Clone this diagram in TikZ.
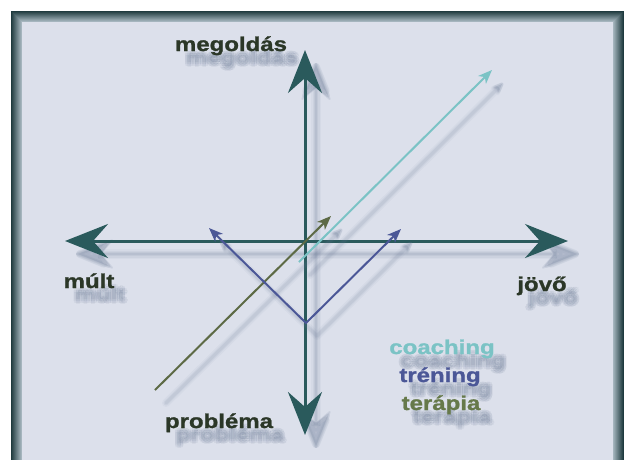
\documentclass[tikz,border=0pt]{standalone}
\usepackage{fontspec}
\setmainfont{Liberation Sans}
\newfontfamily\lblfont{Liberation Sans}[FakeStretch=1.2, FakeBold=1.2]
\usepackage{tikz}
\usetikzlibrary{arrows.meta, calc}
\definecolor{bgface}{HTML}{DCE0EB}
\definecolor{frameout}{HTML}{1E3A3E}
\definecolor{framein}{HTML}{B4C3CC}
\definecolor{axisteal}{HTML}{2A5A5C}
\definecolor{labeldark}{HTML}{2B3727}
\definecolor{shadowblue}{HTML}{6A7A96}
\definecolor{coachcyan}{HTML}{7BC3C5}
\definecolor{trainblue}{HTML}{4B5797}
\definecolor{therapygreen}{HTML}{66794A}
\definecolor{therapyline}{HTML}{5D6A45}

\begin{document}
\begin{tikzpicture}[x=1pt, y=-1pt,
  AxTip/.tip={Stealth[length=43pt, width=34pt, inset=15pt]},
  AxShTip/.tip={Stealth[length=40pt 0.6, width=31pt 0.6, inset=14pt, round]},
  SmTip/.tip={Stealth[length=14pt, width=11pt, inset=4pt]},
  SmShTip/.tip={Stealth[length=12pt 0.6, width=9pt 0.6, inset=3pt, round]},
  axis/.style={draw=axisteal, line width=3pt, AxTip-AxTip},
  axshadow/.style={draw=shadowblue, AxShTip-AxShTip},
  dirarr/.style={line width=2pt, -SmTip},
  dirshadow/.style={draw=shadowblue, line cap=round, line join=round},
  lbl/.style={font=\lblfont\bfseries\fontsize{20}{20}\selectfont,
              inner sep=0pt, anchor=base, text=labeldark},
  lblshadow/.style={lbl, text=shadowblue, opacity=0.08},
]
  \useasboundingbox (0,0) rectangle (624,459);
  \fill[white] (0,0) rectangle (624,459);
  \fill[bgface] (11,11) rectangle (624,470);
  % bevelled frame, cut off at the bottom
  \foreach \i in {0,...,10} {
    \pgfmathsetmacro\mixp{100-9*\i}
    \draw[frameout!\mixp!framein, line width=1.1pt]
      (11.5+\i,11.5+\i) rectangle (623.5-\i,480);
  }

  \coordinate (solTip)    at (305,50);
  \coordinate (probTip)   at (305,435);
  \coordinate (pastTip)   at (65,241);
  \coordinate (futTip)    at (568,241);
  \coordinate (coachFrom) at (299,262);
  \coordinate (coachTo)   at (492,70);
  \coordinate (therFrom)  at (155,390);
  \coordinate (therTo)    at (331,216);
  \coordinate (trainL)    at (209,228);
  \coordinate (trainV)    at (306,323);
  \coordinate (trainR)    at (401,229);

  % soft shadows of the axes
  \begin{scope}[transform canvas={shift={(11,13)}}]
    \foreach \w/\o in {10/0.06, 7/0.08, 4/0.10, 2/0.12} {
      \draw[axshadow, line width=\w pt, opacity=\o] (pastTip) -- (futTip);
      \draw[axshadow, line width=\w pt, opacity=\o] (solTip) -- (probTip);
    }
  \end{scope}
  \draw[axis] (pastTip) -- (futTip);
  \draw[axis] (solTip) -- (probTip);

  % soft shadows of the three approaches
  \begin{scope}[transform canvas={shift={(11,13)}}]
    \foreach \w/\o in {8/0.06, 5/0.08, 3/0.10} {
      \draw[dirshadow, line width=\w pt, opacity=\o, -SmShTip] (therFrom) -- (therTo);
      \draw[dirshadow, line width=\w pt, opacity=\o, SmShTip-SmShTip] (trainL) -- (trainV) -- (trainR);
      \draw[dirshadow, line width=\w pt, opacity=\o, -SmShTip] (coachFrom) -- (coachTo);
    }
  \end{scope}
  \draw[dirarr, therapyline] (therFrom) -- (therTo);
  \draw[dirarr, trainblue, SmTip-SmTip] (trainL) -- (trainV) -- (trainR);
  \draw[dirarr, coachcyan] (coachFrom) -- (coachTo);

  % blurred text shadows
  \foreach \nm/\px/\py/\txt in {megoldas/231/51/megoldás, mult/89/288/múlt,
      jovo/542/291/jövő, problema/219/428/probléma, coaching/442/354/coaching,
      trening/440/382/tréning, terapia/441/410/terápia}
    \foreach \dx/\dy [count=\k] in {0/0, 2.5/0, -2.5/0, 0/2.5, 0/-2.5,
        1.8/1.8, -1.8/1.8, 1.8/-1.8, -1.8/-1.8}
      \node[lblshadow] (\nm-sh\k) at (\px+11+\dx, \py+13+\dy) {\txt};

  \node[lbl] (megoldas) at (231,51)  {megoldás};
  \node[lbl] (mult)     at (89,288)  {múlt};
  \node[lbl] (jovo)     at (542,291) {jövő};
  \node[lbl] (problema) at (219,428) {probléma};
  \node[lbl, text=coachcyan]    (coaching) at (442,354) {coaching};
  \node[lbl, text=trainblue]    (trening)  at (440,382) {tréning};
  \node[lbl, text=therapygreen] (terapia)  at (441,410) {terápia};
\end{tikzpicture}
\end{document}
